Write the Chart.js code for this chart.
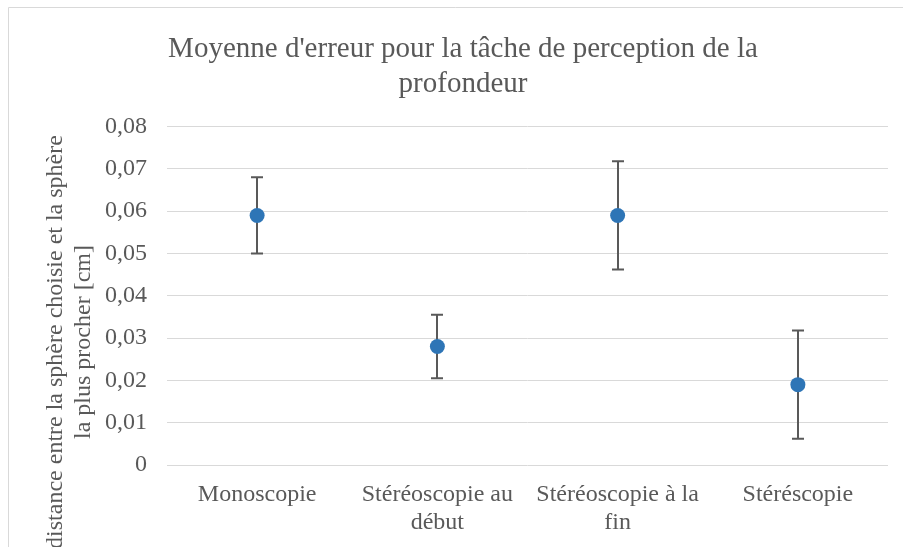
<!DOCTYPE html>
<html>
<head>
<meta charset="utf-8">
<script src="https://cdn.jsdelivr.net/npm/chart.js@4"></script>
<style>
  html, body { margin: 0; padding: 0; background: #ffffff; }
  #wrap { width: 903px; height: 547px; position: relative; }
</style>
</head>
<body>
<div id="wrap"><canvas id="c"></canvas></div>
<script>
// Conditions tested, one multi-line label each
const categories = [
  ['Monoscopie'],
  ['Stéréoscopie au', 'début'],
  ['Stéréoscopie à la', 'fin'],
  ['Stéréscopie']
];
// Mean error per condition [cm]
const means = [0.059, 0.028, 0.059, 0.019];
// Half-length of each error bar [cm]
const errors = [0.009, 0.0075, 0.0128, 0.0128];
// Value-axis tick labels (French decimal comma)
const yTickLabels = ['0', '0,01', '0,02', '0,03', '0,04', '0,05', '0,06', '0,07', '0,08'];

const chartTitle = ["Moyenne d'erreur pour la tâche de perception de la", 'profondeur'];
const yAxisTitle = ['distance entre la sphère choisie et la sphère', 'la plus procher [cm]'];

const SERIF = "'Liberation Serif', 'Times New Roman', serif";
const TEXT = '#595959';
const GRID = '#d9d9d9';
const MARK = '#2e75b6';

// Light frame along the top and left edges of the chart
const framePlugin = {
  id: 'frame',
  beforeDraw(chart) {
    const ctx = chart.ctx;
    ctx.save();
    ctx.strokeStyle = GRID;
    ctx.lineWidth = 1;
    ctx.beginPath();
    ctx.moveTo(8.5, chart.height);
    ctx.lineTo(8.5, 7.5);
    ctx.lineTo(chart.width, 7.5);
    ctx.stroke();
    ctx.restore();
  }
};

// Vertical error bars with caps, drawn beneath the markers
const errorBarPlugin = {
  id: 'errorBars',
  beforeDatasetsDraw(chart) {
    const ctx = chart.ctx;
    const yScale = chart.scales.y;
    const meta = chart.getDatasetMeta(0);
    ctx.save();
    ctx.strokeStyle = '#595959';
    ctx.lineWidth = 2;
    meta.data.forEach((pt, i) => {
      const x = Math.round(pt.x);
      const top = yScale.getPixelForValue(means[i] + errors[i]);
      const bot = yScale.getPixelForValue(means[i] - errors[i]);
      ctx.beginPath();
      ctx.moveTo(x, top);
      ctx.lineTo(x, bot);
      ctx.moveTo(x - 6, top);
      ctx.lineTo(x + 6, top);
      ctx.moveTo(x - 6, bot);
      ctx.lineTo(x + 6, bot);
      ctx.stroke();
    });
    ctx.restore();
  }
};

// Rotated two-line title of the value axis
const yTitlePlugin = {
  id: 'yTitle',
  afterDraw(chart) {
    const ctx = chart.ctx;
    ctx.save();
    ctx.fillStyle = TEXT;
    ctx.font = '24px ' + SERIF;
    ctx.textAlign = 'center';
    ctx.textBaseline = 'middle';
    const cy = 342;
    const xs = [56, 84];
    yAxisTitle.forEach((line, i) => {
      ctx.save();
      ctx.translate(xs[i], cy);
      ctx.rotate(-Math.PI / 2);
      ctx.fillText(line, 0, 0);
      ctx.restore();
    });
    ctx.restore();
  }
};

new Chart(document.getElementById('c'), {
  type: 'line',
  data: {
    labels: categories,
    datasets: [{
      data: means,
      showLine: false,
      pointRadius: 7.5,
      pointHoverRadius: 7.5,
      pointBackgroundColor: MARK,
      pointBorderColor: MARK,
      pointBorderWidth: 0
    }]
  },
  options: {
    responsive: true,
    maintainAspectRatio: false,
    animation: false,
    layout: { padding: { left: 38, right: 15, top: 0, bottom: 0 } },
    plugins: {
      legend: { display: false },
      tooltip: { enabled: false },
      title: {
        display: true,
        text: chartTitle,
        color: TEXT,
        font: { family: SERIF, size: 29, weight: 'normal', lineHeight: 1.2 },
        padding: { top: 32, bottom: 25 }
      }
    },
    scales: {
      x: {
        type: 'category',
        offset: true,
        afterFit(scale) { scale.height = 82; },
        grid: { display: false, drawTicks: false },
        border: { display: false },
        ticks: {
          color: TEXT,
          padding: 15,
          maxRotation: 0,
          autoSkip: false,
          font: { family: SERIF, size: 24, lineHeight: 1.2 }
        }
      },
      y: {
        min: 0,
        max: 0.08,
        afterFit(scale) { scale.width = 129; },
        afterBuildTicks(scale) {
          scale.ticks = yTickLabels.map((_, i) => ({ value: i * 0.01 }));
        },
        grid: { color: GRID, lineWidth: 1, drawTicks: false },
        border: { display: false },
        ticks: {
          color: TEXT,
          padding: 20,
          font: { family: SERIF, size: 24 },
          callback: (v, i) => yTickLabels[i]
        }
      }
    }
  },
  plugins: [framePlugin, errorBarPlugin, yTitlePlugin]
});
</script>
</body>
</html>
